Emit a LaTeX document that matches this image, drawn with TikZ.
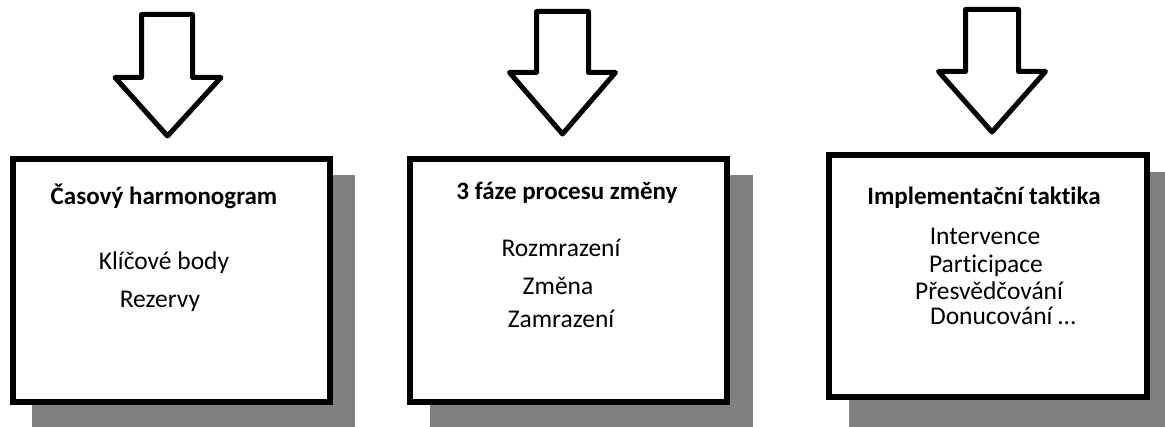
\documentclass[tikz,border=0pt]{standalone}
\usepackage{fontspec}
\setmainfont[Ligatures={NoCommon,TeX}]{Carlito}
\begin{document}
\begin{tikzpicture}[x=1pt,y=-1pt,
  frame/.style={draw=black,line width=5.5pt,fill=white},
  shadow/.style={fill=black!50,draw=none},
  blockarrow/.style={draw=black,line width=5pt,line join=round,fill=white},
  ttl/.style={anchor=base,inner sep=0pt,font=\fontsize{25}{29}\selectfont\bfseries},
  itm/.style={anchor=base,inner sep=0pt,font=\fontsize{25.5}{30}\selectfont}]
\useasboundingbox (0,0) rectangle (1165,427);
\clip (0,0) rectangle (1165,427);
% shadows
\fill[shadow] (32,175) rectangle (355,440);
\fill[shadow] (430,175) rectangle (753,440);
\fill[shadow] (849,172) rectangle (1175,440);
% boxes
\draw[frame] (13,159) rectangle (330,402);
\draw[frame] (410,159) rectangle (727,402);
\draw[frame] (829,155) rectangle (1147,397);
% block arrows
\draw[blockarrow] (141.5,14.5) -- (192.5,14.5) -- (192.5,77.5) -- (221,77.5) -- (167.5,136) -- (115,77.5) -- (141.5,77.5) -- cycle;
\draw[blockarrow] (536.5,11.5) -- (588.5,11.5) -- (588.5,72.5) -- (615.5,72.5) -- (562.5,134) -- (509.5,72.5) -- (536.5,72.5) -- cycle;
\draw[blockarrow] (965.5,9.5) -- (1018.5,9.5) -- (1018.5,71.5) -- (1045.5,71.5) -- (992,132) -- (938.5,71.5) -- (965.5,71.5) -- cycle;
% texts
\node[ttl] (t1) at (164,205) {Časový harmonogram};
\node[itm] (a1) at (164,270) {Klíčové body};
\node[itm] (a2) at (160,308) {Rezervy};
\node[ttl] (t2) at (567,200) {3 fáze procesu změny};
\node[itm] (b1) at (561,257) {Rozmrazení};
\node[itm] (b2) at (558,295) {Změna};
\node[itm] (b3) at (561,328) {Zamrazení};
\node[ttl] (t3) at (984,205) {Implementační taktika};
\node[itm] (c1) at (985,245) {Intervence};
\node[itm] (c2) at (986,273) {Participace};
\node[itm] (c3) at (989,300) {Přesvědčování};
\node[itm] (c4) at (1003,325) {Donucování …};
\end{tikzpicture}
\end{document}
